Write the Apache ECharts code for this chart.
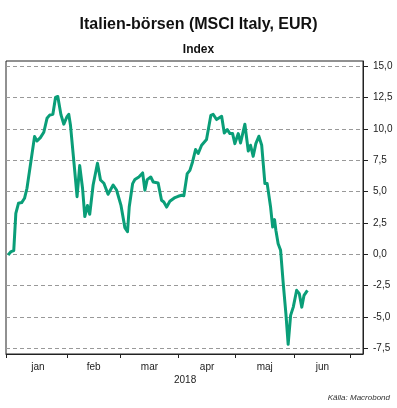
<!DOCTYPE html>
<html lang="sv">

<head>
    <meta charset="UTF-8">
    <title>Italien-börsen (MSCI Italy, EUR)</title>
    <script src="https://cdn.jsdelivr.net/npm/echarts@6.0.0/dist/echarts.min.js"></script>
    <style>
        html, body { margin: 0; padding: 0; background: #fff; }
    </style>
</head>

<body>
    <div id="main" style="width: 397px; height: 408px;"></div>
    <script type="text/javascript">
        // Days since 1 Jan 2018 (x) and index change in % (y)
        const days = [
            -0.3, 1.3, 2.7, 3.8, 5.2, 6.9, 8.4, 9.7, 11.5, 13.7,
            15.0, 16.8, 18.6, 20.3, 21.8, 23.4, 24.8, 26.0, 27.7, 29.2,
            30.9, 31.8, 32.7, 35.0, 36.2, 37.6, 39.1, 40.3, 41.7, 42.9,
            44.7, 47.0, 48.6, 50.4, 52.6, 55.3, 57.1, 59.4, 61.5, 62.9,
            63.8, 65.6, 66.8, 68.9, 70.9, 72.1, 73.3, 75.2, 76.5, 79.1,
            80.9, 82.1, 83.6, 85.3, 88.0, 89.7, 91.5, 92.7, 94.5, 95.9,
            97.3, 98.9, 100.3, 102.1, 104.7, 107.0, 108.2, 110.0, 112.7, 114.1,
            115.7, 117.1, 118.5, 119.7, 121.5, 122.7, 125.0, 126.8, 128.0, 129.4,
            130.8, 132.4, 133.9, 135.6, 136.8, 138.6, 139.7, 140.7, 141.4, 142.6,
            143.9, 145.3, 146.7, 147.9, 149.2, 150.6, 152.4, 153.8, 155.1, 156.3,
            158.1
        ];
        const values = [
            -0.06, 0.22, 0.30, 3.27, 4.07, 4.13, 4.47, 5.27, 7.13, 9.39,
            9.04, 9.31, 9.74, 10.85, 11.12, 11.17, 12.51, 12.59, 11.12, 10.38,
            10.99, 11.17, 10.32, 6.60, 4.60, 7.08, 5.27, 3.01, 3.89, 3.19,
            5.53, 7.26, 5.93, 5.67, 4.79, 5.53, 5.13, 3.93, 2.13, 1.81,
            3.77, 5.64, 5.96, 6.17, 6.49, 5.11, 5.96, 6.17, 5.77, 5.69,
            4.31, 4.17, 3.77, 4.23, 4.53, 4.63, 4.71, 4.67, 6.44, 6.70,
            7.37, 8.36, 8.04, 8.70, 9.15, 11.09, 11.17, 10.75, 11.01, 9.68,
            9.95, 9.63, 9.63, 8.83, 9.63, 8.88, 10.38, 8.24, 8.70, 7.82,
            8.83, 9.42, 8.70, 5.64, 5.64, 3.77, 2.18, 2.77, 1.92, 0.85,
            0.32, -2.34, -4.73, -7.18, -4.87, -4.21, -2.87, -3.14, -4.21, -3.27,
            -2.87
        ];

        // Axis ticks and labels
        const monthStarts = [-1.4, 31, 59, 90, 120, 151, 181];
        const monthMids = [15.5, 45, 74.5, 105, 135.5, 166];
        const monthNames = ['jan', 'feb', 'mar', 'apr', 'maj', 'jun'];
        const yTicks = [-7.5, -5, -2.5, 0, 2.5, 5, 7.5, 10, 12.5, 15];

        const chart = echarts.init(document.getElementById('main'));

        const option = {
            animation: false,
            textStyle: { fontFamily: 'Liberation Sans, Arial, sans-serif' },
            title: [
                {
                    text: 'Italien-börsen (MSCI Italy, EUR)',
                    left: 'center',
                    top: 12,
                    textStyle: { fontSize: 16, fontWeight: 'bold', color: '#111' }
                },
                {
                    text: 'Index',
                    left: 'center',
                    top: 39,
                    textStyle: { fontSize: 12, fontWeight: 'bold', color: '#111' }
                }
            ],
            grid: {
                left: 6,
                right: 34,
                top: 61,
                bottom: 54,
                show: true,
                borderColor: '#222',
                borderWidth: 1
            },
            xAxis: {
                type: 'value',
                min: -1.4,
                max: 187.5,
                axisLine: { show: true, onZero: false, lineStyle: { color: '#222', width: 1 } },
                axisTick: {
                    show: true,
                    customValues: monthStarts,
                    length: 4,
                    lineStyle: { color: '#222' }
                },
                axisLabel: {
                    customValues: monthMids,
                    formatter: (v) => monthNames[monthMids.indexOf(v)] || '',
                    color: '#222',
                    fontSize: 10,
                    margin: 8
                },
                splitLine: { show: false }
            },
            yAxis: {
                type: 'value',
                position: 'right',
                min: -7.95,
                max: 15.42,
                axisLine: { show: true, onZero: false, lineStyle: { color: '#222', width: 1 } },
                axisTick: {
                    show: true,
                    customValues: yTicks,
                    length: 5,
                    lineStyle: { color: '#222' }
                },
                axisLabel: {
                    customValues: yTicks,
                    formatter: (v) => v.toFixed(1).replace('.', ','),
                    color: '#222',
                    fontSize: 10,
                    margin: 10
                },
                splitLine: {
                    show: true,
                    lineStyle: { color: '#999', type: [4, 3], width: 1 }
                }
            },
            series: [{
                type: 'line',
                data: days.map((d, i) => [d, values[i]]),
                showSymbol: false,
                lineStyle: { color: '#0a9e78', width: 3, join: 'round' },
                itemStyle: { color: '#0a9e78' }
            }],
            graphic: [
                {
                    type: 'text',
                    left: 174,
                    top: 375,
                    style: { text: '2018', fontSize: 10, fill: '#222', fontFamily: 'Liberation Sans, Arial, sans-serif' }
                },
                {
                    type: 'text',
                    right: 7,
                    top: 394,
                    style: {
                        text: 'Källa: Macrobond',
                        fontSize: 8,
                        fontStyle: 'italic',
                        fill: '#333',
                        fontFamily: 'Liberation Sans, Arial, sans-serif'
                    }
                }
            ]
        };

        chart.setOption(option);
    </script>
</body>

</html>
